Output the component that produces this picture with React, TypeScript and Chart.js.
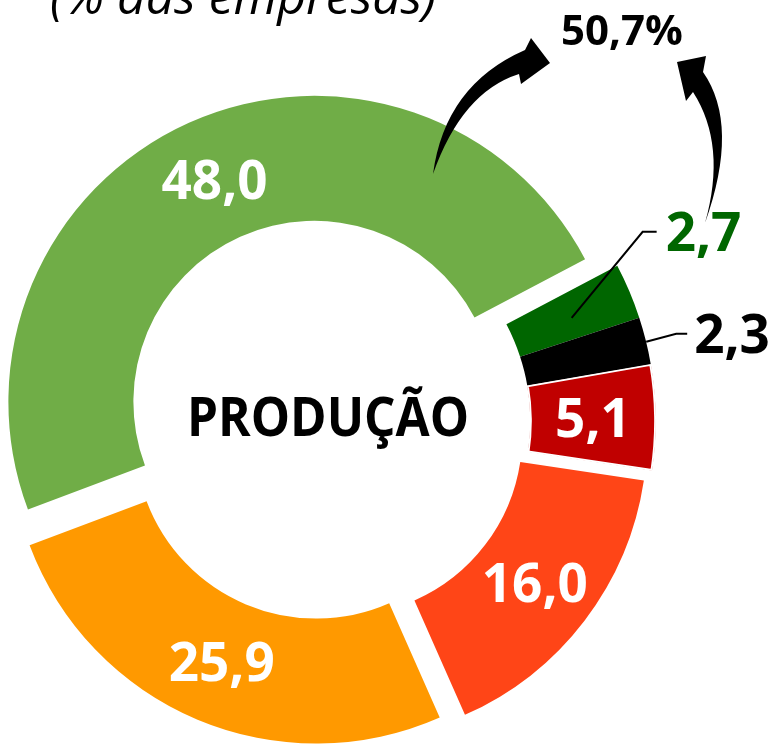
import React, { useEffect, useRef } from 'react';
import { Chart, registerables } from 'chart.js';

Chart.register(...registerables);

// ---- data ----
const categories = ['Aumentou', 'Aumentou muito', 'Não sabe', 'Diminuiu muito', 'Diminuiu', 'Ficou igual'];
const values = [48.0, 2.7, 2.3, 5.1, 16.0, 25.9];
const colors = ['#70AD47', '#006600', '#000000', '#C00000', '#FF4517', '#FF9900'];
const labelColors = ['#FFFFFF', '#006600', '#000000', '#FFFFFF', '#FFFFFF', '#FFFFFF'];
const inOuterRing = [false, true, true, true, false, false];
const outsideLabel = [false, true, true, false, false, false];
const calloutParts = [0, 1];
const titleText = '(% das empresas)';
const centerText = 'PRODUÇÃO';

// ---- styling ----
const explode = [21, 0, 0, 0, 23, 18];
const FONT = "'Open Sans', 'Noto Sans', sans-serif";
const TRANSPARENT = 'rgba(0,0,0,0)';
const fmt = (v: number) => v.toFixed(1).replace('.', ',');

const explodePlugin = {
  id: 'explodeRing',
  beforeDatasetDraw(chart: any, args: any) {
    if (args.index !== 1) return;
    const ctx = chart.ctx;
    args.meta.data.forEach((arc: any, i: number) => {
      const s = explode[i] || 0;
      const mid = (arc.startAngle + arc.endAngle) / 2;
      ctx.save();
      ctx.translate(Math.cos(mid) * s, Math.sin(mid) * s);
      arc.draw(ctx);
      ctx.restore();
    });
    return false;
  },
};

function drawArrows(ctx: CanvasRenderingContext2D) {
  ctx.save();
  ctx.fillStyle = '#000';
  // left arrow
  ctx.beginPath();
  ctx.moveTo(433, 174);
  ctx.quadraticCurveTo(445, 85, 525, 50);
  ctx.lineTo(531, 38);
  ctx.lineTo(550, 63);
  ctx.lineTo(521, 84);
  ctx.lineTo(519, 74);
  ctx.quadraticCurveTo(462, 92, 433, 174);
  ctx.closePath();
  ctx.fill();
  // right arrow
  ctx.beginPath();
  ctx.moveTo(705, 223);
  ctx.quadraticCurveTo(740, 125, 703, 72);
  ctx.lineTo(706, 56);
  ctx.lineTo(677, 62);
  ctx.lineTo(686, 101);
  ctx.lineTo(693, 92);
  ctx.quadraticCurveTo(727, 145, 705, 223);
  ctx.closePath();
  ctx.fill();
  ctx.restore();
}

const labelPlugin = {
  id: 'labels',
  afterDraw(chart: any) {
    const ctx: CanvasRenderingContext2D = chart.ctx;
    const m0 = chart.getDatasetMeta(0);
    const m1 = chart.getDatasetMeta(1);
    ctx.save();
    ctx.textBaseline = 'alphabetic';
    values.forEach((v, i) => {
      const arc = (inOuterRing[i] ? m0 : m1).data[i];
      const mid = (arc.startAngle + arc.endAngle) / 2;
      const s = inOuterRing[i] ? 0 : explode[i];
      const cx = arc.x + Math.cos(mid) * s;
      const cy = arc.y + Math.sin(mid) * s;
      const rMid = (arc.innerRadius + arc.outerRadius) / 2;
      ctx.fillStyle = labelColors[i];
      ctx.font = `bold 53px ${FONT}`;
      if (!outsideLabel[i]) {
        const px = cx + Math.cos(mid) * rMid;
        const py = cy + Math.sin(mid) * rMid;
        ctx.textAlign = 'center';
        ctx.fillText(fmt(v), px, py + 19);
      } else {
        const useOuter = i === 2;
        const r = useOuter ? arc.outerRadius : rMid;
        const ax = cx + Math.cos(mid) * r;
        const ay = cy + Math.sin(mid) * r;
        const elbow = useOuter ? [30, -7] : [71, -84];
        const endX = useOuter ? 41 : 85;
        const textX = useOuter ? 48 : 94;
        ctx.strokeStyle = '#000';
        ctx.lineWidth = 2;
        ctx.beginPath();
        ctx.moveTo(ax, ay + (useOuter ? 1 : 2));
        ctx.lineTo(ax + elbow[0], ay + elbow[1]);
        ctx.lineTo(ax + endX, ay + elbow[1]);
        ctx.stroke();
        ctx.textAlign = 'left';
        ctx.fillText(fmt(v), ax + textX, ay + elbow[1] + 19);
      }
    });

    // center text
    const c0 = m1.data[0];
    ctx.fillStyle = '#000';
    ctx.font = `bold 54px ${FONT}`;
    ctx.textAlign = 'center';
    const w = ctx.measureText(centerText).width;
    const sx = Math.min(1, 282 / w);
    ctx.save();
    ctx.translate(c0.x + 5, c0.y + 15);
    ctx.scale(sx, 1);
    ctx.fillText(centerText, 0, 0);
    ctx.restore();

    // callout
    const total = calloutParts.reduce((a, k) => a + values[k], 0);
    ctx.font = `bold 42px ${FONT}`;
    ctx.textAlign = 'left';
    ctx.fillText(fmt(total) + '%', 561, 45);

    // title (partially cut off at top)
    ctx.font = `italic 50px ${FONT}`;
    ctx.textAlign = 'left';
    ctx.fillText(titleText, 50, 14);

    drawArrows(ctx);
    ctx.restore();
  },
};

export default function App() {
  const ref = useRef<HTMLCanvasElement>(null);
  useEffect(() => {
    if (!ref.current) return;
    const chart = new Chart(ref.current, {
      type: 'doughnut',
      data: {
        labels: categories,
        datasets: [
          {
            data: values,
            backgroundColor: colors.map((c, i) => (inOuterRing[i] ? c : TRANSPARENT)),
            borderWidth: values.map((_, i) => (i === 3 ? 1.5 : 0)),
            borderColor: '#FFFFFF',
            borderAlign: 'inner',
            radius: 333,
            cutout: '24.324%',
            clip: false,
          } as any,
          {
            data: values,
            backgroundColor: colors.map((c, i) => (!inOuterRing[i] ? c : TRANSPARENT)),
            borderWidth: 0,
            radius: 431,
            cutout: '41.995%',
            clip: false,
          } as any,
        ],
      },
      options: {
        responsive: false,
        animation: false,
        events: [],
        rotation: 249.4,
        layout: { padding: { left: 0, right: 136, top: 93, bottom: 0 } },
        plugins: {
          legend: { display: false },
          tooltip: { enabled: false },
          title: { display: false },
        },
      } as any,
      plugins: [explodePlugin, labelPlugin],
    });
    return () => chart.destroy();
  }, []);
  return (
    <div style={{ position: 'absolute', left: 0, top: 0, width: 782, height: 749, background: '#fff' }}>
      <canvas ref={ref} width={782} height={749} style={{ width: 782, height: 749, display: 'block' }} />
    </div>
  );
}
